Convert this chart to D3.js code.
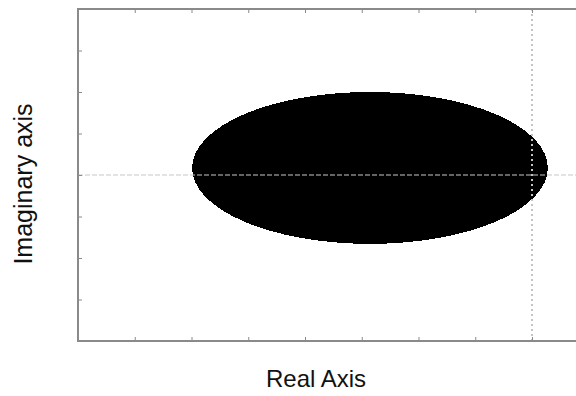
<!DOCTYPE html>
<html>
<head>
<meta charset="utf-8">
<script src="https://cdn.jsdelivr.net/npm/d3@7"></script>
<style>
  html, body { margin: 0; padding: 0; background: #fff; }
  svg { display: block; }
  text { font-family: "Liberation Sans", Arial, sans-serif; fill: #111; }
</style>
</head>
<body>
<svg id="chart" width="576" height="396"></svg>
<script>
// Elliptical region in the complex plane: centre and semi-axes
const regionCentre = [-2.855, 0.17];   // [real, imaginary]
const regionRadii = [3.135, 1.83];     // [along real, along imaginary]

// Axis extents and tick positions (no tick labels are shown)
const realDomain = [-8, 1];
const imagDomain = [-4, 4];
const realTicks = [-8, -7, -6, -5, -4, -3, -2, -1, 0, 1];
const imagTicks = [-4, -3, -2, -1, 0, 1, 2, 3, 4];

const xLabel = "Real Axis";
const yLabel = "Imaginary axis";

const svg = d3.select("#chart");
const plotLeft = 78, plotTop = 9, plotBottom = 341, unitX = 56.75;

const x = d3.scaleLinear().domain(realDomain).range([plotLeft, plotLeft + unitX * (realDomain[1] - realDomain[0])]);
const y = d3.scaleLinear().domain(imagDomain).range([plotBottom, plotTop]);

const axisColor = "#8a8a8a";

// Filled region
svg.append("ellipse")
  .attr("cx", x(regionCentre[0]))
  .attr("cy", y(regionCentre[1]))
  .attr("rx", x(regionCentre[0] + regionRadii[0]) - x(regionCentre[0]))
  .attr("ry", y(regionCentre[1]) - y(regionCentre[1] + regionRadii[1]))
  .attr("fill", "#000")
  .attr("shape-rendering", "crispEdges");

// Real axis reference line (Im = 0)
svg.append("line")
  .attr("x1", x(realDomain[0])).attr("x2", x(realDomain[1]))
  .attr("y1", y(0)).attr("y2", y(0))
  .attr("stroke", "#c8c8c8").attr("stroke-width", 1.2)
  .attr("stroke-dasharray", "5,2");

// Imaginary axis reference line (Re = 0)
svg.append("line")
  .attr("x1", x(0)).attr("x2", x(0))
  .attr("y1", y(imagDomain[1])).attr("y2", y(imagDomain[0]))
  .attr("stroke", "#c4c4c4").attr("stroke-width", 2)
  .attr("stroke-dasharray", "2,3");

// Frame
svg.append("rect")
  .attr("x", x(realDomain[0])).attr("y", y(imagDomain[1]))
  .attr("width", x(realDomain[1]) - x(realDomain[0]))
  .attr("height", y(imagDomain[0]) - y(imagDomain[1]))
  .attr("fill", "none").attr("stroke", axisColor).attr("stroke-width", 2);

// Inward ticks on all sides
function styleAxis(g) {
  g.select(".domain").remove();
  g.selectAll(".tick line").attr("stroke", axisColor).attr("stroke-width", 1);
  g.selectAll(".tick text").remove();
}
svg.append("g").attr("transform", `translate(0,${plotBottom})`)
  .call(d3.axisBottom(x).tickValues(realTicks).tickSize(-4)).call(styleAxis);
svg.append("g").attr("transform", `translate(0,${plotTop})`)
  .call(d3.axisTop(x).tickValues(realTicks).tickSize(-4)).call(styleAxis);
svg.append("g").attr("transform", `translate(${plotLeft},0)`)
  .call(d3.axisLeft(y).tickValues(imagTicks).tickSize(-4)).call(styleAxis);
svg.append("g").attr("transform", `translate(${x(realDomain[1])},0)`)
  .call(d3.axisRight(y).tickValues(imagTicks).tickSize(-4)).call(styleAxis);

// Axis titles
svg.append("text")
  .attr("x", 316).attr("y", 387)
  .attr("text-anchor", "middle")
  .attr("font-size", 24)
  .text(xLabel);

svg.append("text")
  .attr("transform", "translate(32,184) rotate(-90)")
  .attr("text-anchor", "middle")
  .attr("font-size", 25)
  .text(yLabel);
</script>
</body>
</html>
